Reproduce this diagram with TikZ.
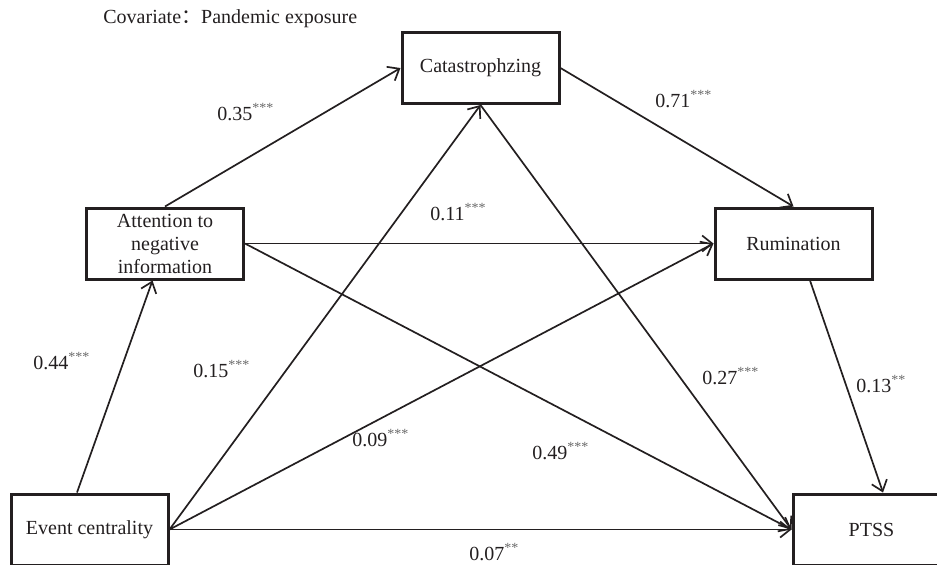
\documentclass[tikz,border=0pt]{standalone}
\usepackage{fontspec}
\setmainfont{Liberation Serif}
\newfontfamily\cjkfont{Noto Sans CJK SC}
\usepackage{tikz}
\usetikzlibrary{arrows.meta, positioning, calc}
\definecolor{inkblack}{RGB}{35,31,32}
\definecolor{stargray}{RGB}{105,105,105}

\begin{document}
\begin{tikzpicture}[x=0.5pt, y=-0.5pt,
    varbox/.style={draw=inkblack, line width=1.5pt, minimum width=78.5pt, minimum height=35.5pt,
        inner sep=0pt, align=center, font=\fontsize{10}{11.5}\selectfont, text=inkblack},
    effect/.style={draw=inkblack, line width=0.85pt, -{Straight Barb[length=5pt,width=8pt]}},
    coef/.style={font=\fontsize{10}{12}\selectfont, text=inkblack, anchor=base west, inner sep=0pt}]
    \clip (0,0) rectangle (937,564);

    \node[coef] (cov) at (103,23) {Covariate{\cjkfont ：}Pandemic exposure};

    % Variables
    \node[varbox] (cat) at (480.5,68) {Catastrophzing};
    \node[varbox] (att) at (165,243.5) {Attention to\\negative\\information};
    \node[varbox] (rum) at (793.5,243.5) {Rumination};
    \node[varbox] (ev) at (89.5,529.5) {Event centrality};
    \node[varbox] (ptss) at (871.5,529.5) {PTSS};

    % Paths
    \draw[effect] ([xshift=-6.25pt]ev.north) -- ([xshift=-6.25pt]att.south);
    \draw[effect] (att.north) -- (cat.west);
    \draw[effect] (cat.east) -- (rum.north);
    \draw[effect] (att.east) -- (rum.west);
    \draw[effect] (att.east) -- (ptss.west);
    \draw[effect] (cat.south) -- (ptss.west);
    \draw[effect] (ev.east) -- (cat.south);
    \draw[effect] (ev.east) -- (rum.west);
    \draw[effect] (ev.east) -- (ptss.west);
    \draw[effect] ([xshift=8.25pt]rum.south) -- ([xshift=5.75pt]ptss.north);

    % Coefficients
    \foreach \cx/\cy/\val/\sig/\nm in {217/120/0.35/***/kAC, 655/107/0.71/***/kCR,
        430/220/0.11/***/kAR, 33/369/0.44/***/kEA, 193/377/0.15/***/kEC,
        702/384/0.27/***/kCP, 856/392/0.13/**/kRP, 352/446/0.09/***/kER,
        532/459/0.49/***/kAP, 469/560/0.07/**/kEP} {
        \node[coef] (\nm) at (\cx,\cy) {\val\textsuperscript{\textcolor{stargray}{\sig}}};
    }
\end{tikzpicture}
\end{document}
